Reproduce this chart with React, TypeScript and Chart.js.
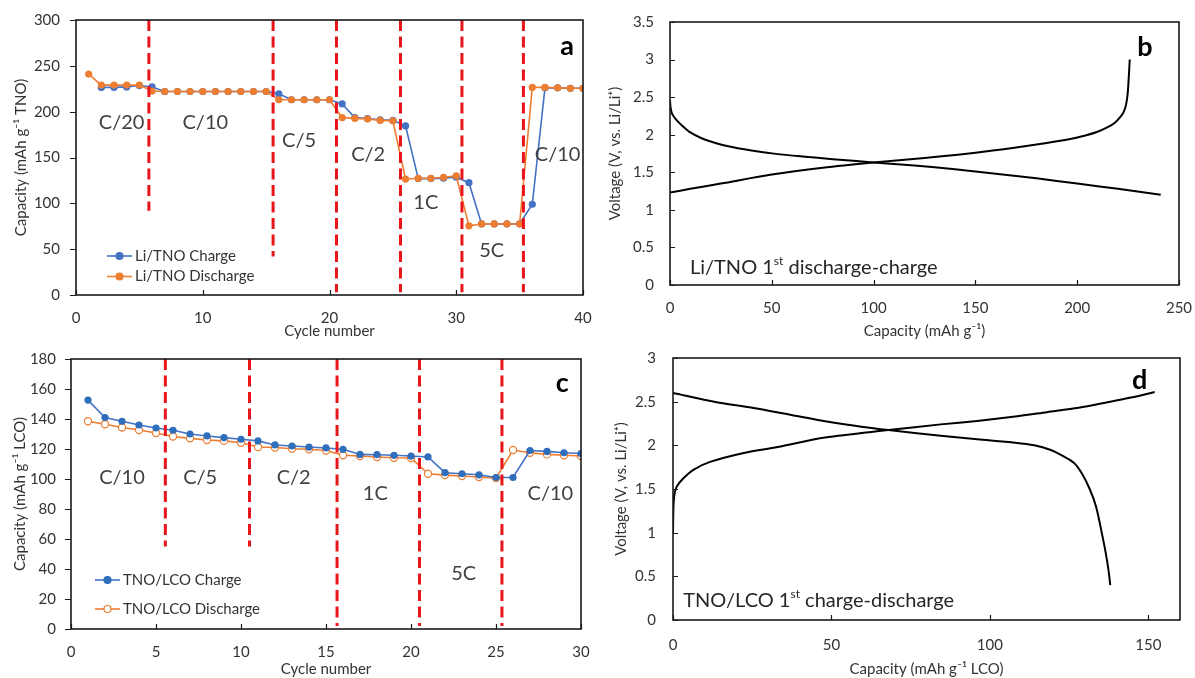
import React, { useEffect, useRef } from "react";
import { Chart, registerables } from "chart.js";

Chart.register(...registerables);

const FONT = "Lato, 'Noto Sans', 'DejaVu Sans', sans-serif";
const TEXT = "#333333";
const LABEL = "#404040";
const BLUE = "#4472C4";
const BLUE_DARK = "#2F6EBA";
const ORANGE = "#ED7D31";
const RED = "#E8161B";

// ---------------- Panel a: Li/TNO rate test ----------------
const cyclesA = [1, 2, 3, 4, 5, 6, 7, 8, 9, 10, 11, 12, 13, 14, 15, 16, 17, 18, 19, 20, 21, 22, 23, 24, 25, 26, 27, 28, 29, 30, 31, 32, 33, 34, 35, 36, 37, 38, 39, 40];
const chargeA = [null, 226.5, 226.5, 227, 228.5, 227, 222, 222, 222, 222, 222, 222, 222, 222, 222, 219.5, 213, 213, 213, 213, 208.5, 193.5, 192.5, 191, 190.5, 184.5, 127, 127, 127.5, 128.5, 122.5, 77.5, 77.5, 77.5, 77.5, 99, 226, 226, 225.5, 225.5];
const dischargeA = [241, 229, 229, 229, 229, 222.5, 222, 222, 222, 222, 222, 222, 222, 222, 222, 213, 213, 213, 213, 213, 193.5, 192.7, 192, 190.5, 190, 126.5, 127.3, 127.3, 128.4, 130, 75.5, 77.5, 77.5, 77.5, 77.5, 226.5, 226.5, 226, 225.5, 225.5];
const boundariesA = [5.75, 15.55, 20.55, 25.6, 30.45, 35.3];
const boundaryEndsA = [92, 42, 3, 3, 3, 3];
const ratesA = ["C/20", "C/10", "C/5", "C/2", "1C", "5C", "C/10"];
const rateXA = [3.6, 10.2, 17.6, 23.05, 27.6, 32.8, 38.0];
const rateYA = [187.6, 187.6, 169, 152.7, 100.4, 49, 152.7];

// ---------------- Panel b: Li/TNO 1st discharge-charge ----------------
const capBDis = [0, 0.3, 1, 3, 6, 10, 15, 20, 28, 40, 52, 65, 80, 100, 120, 140, 160, 180, 200, 220, 241];
const voltBDis = [2.46, 2.36, 2.28, 2.2, 2.12, 2.03, 1.96, 1.91, 1.85, 1.79, 1.745, 1.71, 1.675, 1.63, 1.59, 1.54, 1.48, 1.42, 1.35, 1.28, 1.2];
const capBChg = [0, 10, 25, 50, 75, 100, 125, 150, 170, 185, 196, 204, 210, 215, 218.5, 221, 222.8, 224, 224.8, 225.3, 225.8];
const voltBChg = [1.23, 1.28, 1.35, 1.47, 1.56, 1.63, 1.69, 1.76, 1.83, 1.89, 1.94, 1.99, 2.04, 2.1, 2.16, 2.23, 2.3, 2.4, 2.55, 2.75, 3.0];

// ---------------- Panel c: TNO/LCO rate test ----------------
const cyclesC = [1, 2, 3, 4, 5, 6, 7, 8, 9, 10, 11, 12, 13, 14, 15, 16, 17, 18, 19, 20, 21, 22, 23, 24, 25, 26, 27, 28, 29, 30];
const chargeC = [152.6, 141, 138.5, 136, 134, 132.5, 130, 128.7, 127.6, 126.5, 125.4, 122.7, 122, 121.3, 120.7, 119.8, 116.4, 116.2, 115.8, 115.3, 114.7, 104.2, 103.5, 102.8, 101, 101, 119, 118.4, 117.5, 117];
const dischargeC = [138.5, 136.5, 134.3, 132.7, 130.7, 128.3, 127.1, 126, 125.4, 124.2, 121.3, 121, 120.2, 119.8, 119, 115.8, 115.3, 114.7, 114.2, 114, 103.5, 102.6, 102, 101.3, 100.6, 119.3, 117.5, 116.4, 115.8, 115.3];
const boundariesC = [5.55, 10.5, 15.65, 20.5, 25.35];
const boundaryEndsC = [55, 55, 2, 2, 2];
const ratesC = ["C/10", "C/5", "C/2", "1C", "5C", "C/10"];
const rateXC = [3.0, 7.6, 13.1, 17.9, 23.1, 28.2];
const rateYC = [101.3, 101.3, 101.3, 90, 37.3, 90];

// ---------------- Panel d: TNO/LCO 1st charge-discharge ----------------
const capDChg = [0, 0.15, 0.5, 1.2, 3.2, 6.4, 11.7, 22, 33, 48, 68, 84.5, 96, 108, 118, 128, 138, 145, 152];
const voltDChg = [1.0, 1.3, 1.45, 1.53, 1.62, 1.72, 1.81, 1.91, 1.98, 2.09, 2.175, 2.24, 2.28, 2.33, 2.38, 2.43, 2.5, 2.55, 2.61];
const capDDis = [0, 13, 25, 37, 49, 60, 68, 84.5, 96, 108, 114, 119, 123, 126.5, 129, 131.5, 133.5, 135.3, 136.5, 137.4, 138];
const voltDDis = [2.6, 2.5, 2.43, 2.35, 2.27, 2.21, 2.175, 2.11, 2.07, 2.03, 2.0, 1.95, 1.88, 1.8, 1.68, 1.5, 1.3, 1.0, 0.78, 0.58, 0.4];

// ---------------- helpers ----------------
const pts = (xs: number[], ys: (number | null)[]) =>
  xs.map((x, i) => ({ x, y: ys[i] })).filter((p) => p.y !== null && p.y !== undefined);

const decoPlugin = {
  id: "deco",
  afterDatasetsDraw(chart: any, _args: any, o: any) {
    if (!o || !o.on) return;
    const { ctx, chartArea: a, scales } = chart;
    const xs = scales.x;
    const ys = scales.y;
    ctx.save();
    // frame
    ctx.strokeStyle = "#1a1a1a";
    ctx.lineWidth = 1.6;
    ctx.strokeRect(a.left, a.top, a.right - a.left, a.bottom - a.top);
    // tick marks
    const L = 5;
    ctx.lineWidth = 1.2;
    ctx.beginPath();
    for (const t of xs.ticks) {
      const px = Math.round(xs.getPixelForValue(t.value)) + 0.5;
      const d = o.xTick === "out" ? L : -L;
      ctx.moveTo(px, a.bottom);
      ctx.lineTo(px, a.bottom + d);
    }
    for (const t of ys.ticks) {
      const py = Math.round(ys.getPixelForValue(t.value)) + 0.5;
      const d = o.yTick === "out" ? -L - 1 : L;
      ctx.moveTo(a.left, py);
      ctx.lineTo(a.left + d, py);
    }
    ctx.stroke();
    // labels (data coordinates)
    for (const lb of o.labels || []) {
      const size = lb.size;
      const x0 = xs.getPixelForValue(lb.x);
      const y0 = ys.getPixelForValue(lb.y);
      ctx.fillStyle = lb.color || LABEL;
      ctx.textBaseline = "middle";
      const parts = lb.parts || [{ t: lb.text }];
      const fontFor = (p: any) =>
        `${lb.weight || "normal"} ${p.sup ? Math.round(size * 0.6) : size}px ${FONT}`;
      let total = 0;
      for (const p of parts) {
        ctx.font = fontFor(p);
        total += ctx.measureText(p.t).width;
      }
      let x = lb.align === "left" ? x0 : x0 - total / 2;
      ctx.textAlign = "left";
      for (const p of parts) {
        ctx.font = fontFor(p);
        ctx.fillText(p.t, x, p.sup ? y0 - size * 0.32 : y0);
        x += ctx.measureText(p.t).width;
      }
    }
    // legend
    const lg = o.legend;
    if (lg) {
      lg.items.forEach((it: any, i: number) => {
        const y = a.bottom - lg.bottomOffsets[i];
        const x1 = a.left + lg.lineStart;
        const x2 = a.left + lg.lineEnd;
        ctx.strokeStyle = it.line;
        ctx.lineWidth = 1.6;
        ctx.beginPath();
        ctx.moveTo(x1, y);
        ctx.lineTo(x2, y);
        ctx.stroke();
        ctx.beginPath();
        ctx.arc((x1 + x2) / 2, y, 3.5, 0, Math.PI * 2);
        ctx.fillStyle = it.fill;
        ctx.fill();
        ctx.lineWidth = 1.2;
        ctx.strokeStyle = it.stroke;
        ctx.stroke();
        ctx.fillStyle = TEXT;
        ctx.font = `15px ${FONT}`;
        ctx.textAlign = "left";
        ctx.textBaseline = "middle";
        ctx.fillText(it.label, a.left + lg.textStart, y);
      });
    }
    ctx.restore();
  },
};
Chart.register(decoPlugin);

function axis(o: {
  min: number;
  max: number;
  step: number;
  title: string;
  titlePad: number;
  tickPad: number;
  fit: number;
  horizontal: boolean;
}) {
  return {
    type: "linear",
    min: o.min,
    max: o.max,
    grid: { display: false, drawTicks: false },
    border: { display: false },
    ticks: {
      stepSize: o.step,
      padding: o.tickPad,
      color: TEXT,
      font: { family: FONT, size: 15 },
      includeBounds: false,
      maxRotation: 0,
      autoSkip: false,
      callback: (v: any) => String(Math.round(Number(v) * 100) / 100),
    },
    title: {
      display: true,
      text: o.title,
      color: TEXT,
      font: { family: FONT, size: 15 },
      padding: o.horizontal ? { top: 0, bottom: o.titlePad } : { top: o.titlePad, bottom: 0 },
    },
    afterFit: (s: any) => {
      if (o.horizontal) {
        s.height = o.fit;
        s.paddingLeft = 0;
        s.paddingRight = 0;
      } else {
        s.width = o.fit;
        s.paddingTop = 0;
        s.paddingBottom = 0;
      }
    },
  };
}

function boundaryDatasets(xs: number[], ends: number[], top: number) {
  return xs.map((b, i) => ({
    data: [
      { x: b, y: top },
      { x: b, y: ends[i] },
    ],
    showLine: true,
    borderColor: RED,
    borderWidth: 3,
    borderDash: [11, 5.5],
    pointRadius: 0,
    order: 0,
  }));
}

function baseOptions(padding: any, scales: any, deco: any) {
  return {
    responsive: false,
    animation: false,
    events: [],
    layout: { padding },
    scales,
    plugins: {
      legend: { display: false },
      tooltip: { enabled: false },
      deco: { on: true, ...deco },
    },
  };
}

function buildA() {
  return {
    type: "scatter",
    data: {
      datasets: [
        ...boundaryDatasets(boundariesA, boundaryEndsA, 300),
        {
          data: pts(cyclesA, dischargeA),
          showLine: true,
          borderColor: ORANGE,
          backgroundColor: ORANGE,
          borderWidth: 1.6,
          pointRadius: 3.6,
          pointBorderWidth: 0,
          order: 1,
        },
        {
          data: pts(cyclesA, chargeA),
          showLine: true,
          borderColor: BLUE,
          backgroundColor: BLUE,
          borderWidth: 1.6,
          pointRadius: 3.6,
          pointBorderWidth: 0,
          order: 2,
        },
      ],
    },
    options: baseOptions(
      { top: 20, right: 17, left: 0, bottom: 0 },
      {
        x: axis({ min: 0, max: 40, step: 10, title: "Cycle number", titlePad: 0, tickPad: 14, fit: 45, horizontal: true }),
        y: axis({ min: 0, max: 300, step: 50, title: "Capacity (mAh g\u207B\u00B9 TNO)", titlePad: 12, tickPad: 16, fit: 76, horizontal: false }),
      },
      {
        xTick: "in",
        yTick: "out",
        labels: [
          ...ratesA.map((t, i) => ({ text: t, x: rateXA[i], y: rateYA[i], size: 20 })),
          { text: "a", x: 38.75, y: 271, size: 27, weight: "bold", color: "#000" },
        ],
        legend: {
          lineStart: 31,
          lineEnd: 56,
          textStart: 59,
          bottomOffsets: [39, 18.5],
          items: [
            { label: "Li/TNO Charge", line: BLUE, fill: BLUE, stroke: BLUE },
            { label: "Li/TNO Discharge", line: ORANGE, fill: ORANGE, stroke: ORANGE },
          ],
        },
      }
    ),
  };
}

function buildB() {
  return {
    type: "scatter",
    data: {
      datasets: [
        {
          data: pts(capBDis, voltBDis),
          showLine: true,
          borderColor: "#000",
          borderWidth: 2,
          pointRadius: 0,
          tension: 0.3,
        },
        {
          data: pts(capBChg, voltBChg),
          showLine: true,
          borderColor: "#000",
          borderWidth: 2,
          pointRadius: 0,
          tension: 0.3,
        },
      ],
    },
    options: baseOptions(
      { top: 22, right: 16, left: 0, bottom: 0 },
      {
        x: axis({ min: 0, max: 250, step: 50, title: "Capacity (mAh g\u207B\u00B9)", titlePad: 0, tickPad: 14, fit: 55, horizontal: true }),
        y: axis({ min: 0, max: 3.5, step: 0.5, title: "Voltage (V, vs. Li/Li\u207A)", titlePad: 6, tickPad: 16, fit: 70, horizontal: false }),
      },
      {
        xTick: "in",
        yTick: "in",
        labels: [
          { text: "b", x: 233.3, y: 3.17, size: 27, weight: "bold", color: "#000" },
          {
            parts: [{ t: "Li/TNO 1" }, { t: "st", sup: true }, { t: " discharge-charge" }],
            x: 9.8,
            y: 0.23,
            size: 20,
            align: "left",
            color: "#262626",
          },
        ],
      }
    ),
  };
}

function buildC() {
  return {
    type: "scatter",
    data: {
      datasets: [
        ...boundaryDatasets(boundariesC, boundaryEndsC, 180),
        {
          data: pts(cyclesC, chargeC),
          showLine: true,
          borderColor: BLUE,
          backgroundColor: BLUE_DARK,
          borderWidth: 1.6,
          pointRadius: 3.6,
          pointBorderWidth: 0,
          order: 1,
        },
        {
          data: pts(cyclesC, dischargeC),
          showLine: true,
          borderColor: ORANGE,
          backgroundColor: "#ffffff",
          pointBorderColor: ORANGE,
          pointBackgroundColor: "#ffffff",
          borderWidth: 1.6,
          pointRadius: 3.6,
          pointBorderWidth: 1.2,
          order: 2,
        },
      ],
    },
    options: baseOptions(
      { top: 19, right: 19, left: 0, bottom: 0 },
      {
        x: axis({ min: 0, max: 30, step: 5, title: "Cycle number", titlePad: 0, tickPad: 14, fit: 49, horizontal: true }),
        y: axis({ min: 0, max: 180, step: 20, title: "Capacity (mAh g\u207B\u00B9 LCO)", titlePad: 11, tickPad: 15, fit: 71, horizontal: false }),
      },
      {
        xTick: "in",
        yTick: "out",
        labels: [
          ...ratesC.map((t, i) => ({ text: t, x: rateXC[i], y: rateYC[i], size: 20 })),
          { text: "c", x: 28.9, y: 164, size: 27, weight: "bold", color: "#000" },
        ],
        legend: {
          lineStart: 24,
          lineEnd: 49,
          textStart: 52,
          bottomOffsets: [49, 20],
          items: [
            { label: "TNO/LCO Charge", line: BLUE, fill: BLUE_DARK, stroke: BLUE_DARK },
            { label: "TNO/LCO Discharge", line: ORANGE, fill: "#ffffff", stroke: ORANGE },
          ],
        },
      }
    ),
  };
}

function buildD() {
  return {
    type: "scatter",
    data: {
      datasets: [
        {
          data: pts(capDChg, voltDChg),
          showLine: true,
          borderColor: "#000",
          borderWidth: 2,
          pointRadius: 0,
          tension: 0.3,
        },
        {
          data: pts(capDDis, voltDDis),
          showLine: true,
          borderColor: "#000",
          borderWidth: 2,
          pointRadius: 0,
          tension: 0.3,
        },
      ],
    },
    options: baseOptions(
      { top: 18, right: 15, left: 0, bottom: 0 },
      {
        x: axis({ min: 0, max: 160, step: 50, title: "Capacity (mAh g\u207B\u00B9 LCO)", titlePad: 0, tickPad: 16, fit: 58, horizontal: true }),
        y: axis({ min: 0, max: 3, step: 0.5, title: "Voltage (V, vs. Li/Li\u207A)", titlePad: 12, tickPad: 17, fit: 73, horizontal: false }),
      },
      {
        xTick: "in",
        yTick: "in",
        labels: [
          { text: "d", x: 147.3, y: 2.75, size: 27, weight: "bold", color: "#000" },
          {
            parts: [{ t: "TNO/LCO 1" }, { t: "st", sup: true }, { t: " charge-discharge" }],
            x: 3.2,
            y: 0.22,
            size: 20,
            align: "left",
            color: "#262626",
          },
        ],
      }
    ),
  };
}

function ChartPanel(props: { left: number; top: number; width: number; height: number; build: () => any }) {
  const ref = useRef<HTMLCanvasElement>(null);
  useEffect(() => {
    const chart = new Chart(ref.current as HTMLCanvasElement, props.build());
    return () => chart.destroy();
  }, []);
  return (
    <canvas
      ref={ref}
      width={props.width}
      height={props.height}
      style={{ position: "absolute", left: props.left, top: props.top, width: props.width, height: props.height }}
    />
  );
}

export default function App() {
  return (
    <div style={{ position: "fixed", left: 0, top: 0, width: 1195, height: 678, background: "#fff", overflow: "hidden" }}>
      <ChartPanel left={0} top={0} width={600} height={340} build={buildA} />
      <ChartPanel left={600} top={0} width={595} height={340} build={buildB} />
      <ChartPanel left={0} top={340} width={600} height={338} build={buildC} />
      <ChartPanel left={600} top={340} width={595} height={338} build={buildD} />
    </div>
  );
}
